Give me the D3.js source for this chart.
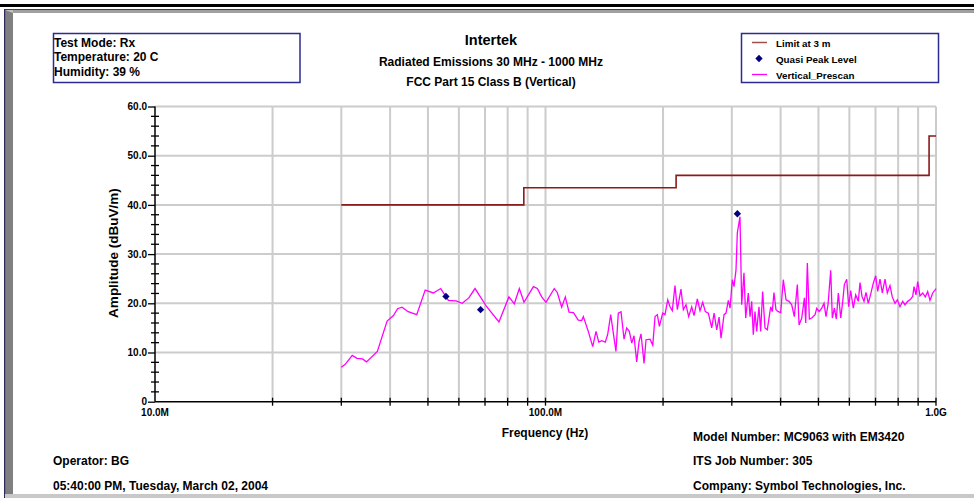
<!DOCTYPE html>
<html lang="en">
<head>
<meta charset="utf-8">
<title>Radiated Emissions</title>
<script src="https://d3js.org/d3.v7.min.js"></script>
<style>
  body { margin: 0; background: #fff; }
  svg { display: block; font-family: "Liberation Sans", Arial, sans-serif; font-weight: bold; }
</style>
</head>
<body>
<svg width="974" height="498"></svg>
<script>
// prescan trace, frequency in MHz / amplitude in dBuV/m
const prescanFreq = [30.0, 30.7, 32.0, 32.9, 34.0, 34.8, 37.1, 39.3, 40.8, 41.8, 42.9, 44.5, 46.8, 49.2, 51.6, 53.9,
  56.4, 59.0, 61.2, 63.6, 66.0, 70.7, 76.0, 80.6, 83.2, 85.7, 88.1, 93.1, 95.3, 97.8, 100.3, 105.3, 107.2, 110.0,
  112.4, 114.9, 117.9, 121.3, 123.8, 125.0, 128.7, 132.1, 134.7, 136.9, 139.3, 142.3, 144.3, 146.9, 149.2, 151.5,
  153.6, 156.1, 158.9, 161.4, 163.9, 166.3, 168.5, 171.2, 173.6, 175.6, 178.8, 180.9, 185.2, 188.2, 190.8, 193.4,
  195.7, 199.6, 202.3, 205.6, 208.4, 211.2, 214.6, 217.6, 222.3, 225.4, 229.0, 232.6, 236.8, 240.1, 244.8, 248.7,
  252.7, 256.6, 261.2, 266.5, 270.2, 274.5, 278.3, 281.5, 286.6, 289.9, 293.9, 296.9, 300.9, 303.9, 307.5, 309.9,
  314.8, 318.0, 322.3, 325.6, 330.6, 334.0, 337.3, 340.5, 343.9, 347.4, 352.1, 355.6, 359.8, 364.8, 369.8, 377.3,
  380.8, 384.6, 389.2, 394.6, 400.2, 406.4, 413.0, 420.4, 427.1, 433.7, 441.5, 446.0, 453.1, 460.2, 463.9, 468.3,
  473.9, 480.6, 490.1, 495.0, 501.7, 509.8, 516.7, 522.8, 529.0, 537.5, 542.6, 549.1, 555.6, 562.2, 570.2, 577.0,
  582.5, 590.7, 597.6, 604.7, 614.1, 622.8, 632.4, 638.9, 646.4, 654.1, 661.8, 670.8, 681.6, 690.9, 700.8, 709.1,
  718.8, 728.6, 740.3, 750.4, 762.4, 772.8, 785.2, 795.8, 808.7, 821.7, 832.9, 846.3, 857.8, 871.6, 878.4, 888.8,
  897.6, 909.9, 924.5, 938.9, 952.1, 965.2, 980.8, 995.9, 1000];
const prescanAmp = [7.0, 7.6, 9.4, 8.8, 8.7, 8.1, 10.2, 16.4, 17.5, 18.9, 19.2, 18.3, 17.7, 22.7, 22.1, 23.0,
  20.6, 20.5, 20.0, 21.1, 23.0, 19.3, 16.2, 21.3, 19.9, 23.0, 20.2, 23.4, 23.0, 21.3, 20.2, 23.0, 22.2, 19.2,
  21.3, 18.2, 18.1, 16.6, 16.5, 17.3, 14.3, 11.2, 14.3, 12.1, 12.4, 12.1, 13.7, 17.7, 13.9, 10.2,
  18.0, 18.3, 12.7, 15.0, 14.3, 11.9, 13.4, 8.1, 12.2, 13.8, 7.8, 12.6, 12.7, 11.5, 17.3, 17.7,
  15.3, 18.0, 17.7, 20.7, 19.3, 18.5, 23.6, 18.7, 22.9, 18.7, 19.7, 17.3, 19.3, 17.5, 20.9, 18.5,
  20.2, 18.3, 18.0, 15.0, 18.0, 14.6, 17.2, 12.9, 17.7, 18.0, 20.6, 19.0, 24.8, 23.4, 26.8, 34.3,
  37.6, 19.7, 26.2, 17.0, 22.1, 17.3, 20.4, 13.6, 18.3, 14.3, 19.3, 14.3, 22.4, 15.0, 14.6, 19.3,
  18.3, 22.2, 18.7, 18.3, 18.1, 24.8, 20.7, 20.4, 19.7, 17.3, 23.8, 15.6, 17.0, 21.1, 16.0, 28.2,
  16.8, 17.0, 17.7, 19.0, 18.3, 19.0, 20.0, 17.3, 19.7, 26.7, 17.0, 19.0, 16.8, 22.1, 17.0, 20.4,
  23.8, 24.9, 19.3, 22.6, 19.0, 21.7, 20.4, 24.2, 21.4, 20.4, 22.2, 20.0, 22.1, 24.1, 25.6, 22.4,
  24.9, 22.1, 24.9, 22.1, 23.6, 21.3, 20.0, 20.7, 19.3, 20.4, 19.7, 20.4, 20.7, 21.4, 23.4, 21.7,
  24.4, 21.5, 22.1, 21.3, 22.4, 20.6, 22.1, 22.8, 23.0];

// quasi peak readings
const qpFreq = [55.6, 68.2, 310.0];
const qpAmp = [21.4, 18.7, 38.2];

// FCC class B limit at 3 m (step)
const limitFreq = [30, 88, 216, 960, 1000];
const limitAmp = [40.0, 43.5, 46.0, 54.0, 54.0];

const yMajor = [0, 10, 20, 30, 40, 50, 60];
const yLabels = ["0", "10.0", "20.0", "30.0", "40.0", "50.0", "60.0"];
const xLabelVals = [1e7, 1e8, 1e9];
const xLabels = ["10.0M", "100.0M", "1.0G"];

const infoLines = ["Test Mode: Rx", "Temperature: 20 C", "Humidity: 39 %"];
const titleLines = ["Intertek", "Radiated Emissions 30 MHz - 1000 MHz", "FCC Part 15 Class B (Vertical)"];
const footLeft = ["Operator: BG", "05:40:00 PM, Tuesday, March 02, 2004"];
const footRight = ["Model Number: MC9063 with EM3420", "ITS Job Number: 305", "Company: Symbol Technologies, Inc."];

const svg = d3.select("svg");

// window frame
svg.append("rect").attr("x", 0).attr("y", 4).attr("width", 974).attr("height", 3).attr("fill", "#000");
svg.append("rect").attr("x", 5).attr("y", 9).attr("width", 969).attr("height", 1).attr("fill", "#3a3a78");
svg.append("rect").attr("x", 5).attr("y", 10).attr("width", 969).attr("height", 3).attr("fill", "#a0a0a0");
svg.append("path").attr("d", "M5,10 L13,10 L13,494 L5,494 Z").attr("fill", "#808080");
svg.append("path").attr("d", "M5,10 L13,13 L13,10 Z").attr("fill", "#c0c0c0");
svg.append("rect").attr("x", 4).attr("y", 9).attr("width", 1.2).attr("height", 489).attr("fill", "#2a2a60");
svg.append("rect").attr("x", 5).attr("y", 494).attr("width", 969).attr("height", 4).attr("fill", "#c8c8c8");

const x = d3.scaleLog().domain([1e7, 1e9]).range([155, 936]);
const y = d3.scaleLinear().domain([0, 60]).range([401.7, 106.5]);

// grid
const xGrid = [];
[1e7, 1e8].forEach(dec => { for (let i = 2; i <= 10; i++) xGrid.push(dec * i); });
const grid = svg.append("g").attr("stroke", "#cccccc").attr("stroke-width", 2);
grid.selectAll("line.v").data(xGrid).join("line").attr("class", "v")
  .attr("x1", d => x(d)).attr("x2", d => x(d)).attr("y1", y(60)).attr("y2", y(0));
grid.selectAll("line.h").data(yMajor.slice(1)).join("line").attr("class", "h")
  .attr("x1", x(1e7)).attr("x2", x(1e9)).attr("y1", d => y(d)).attr("y2", d => y(d));

// y axis
const yMinor = d3.range(0, 61, 2).filter(v => v % 10 !== 0);
const yAxis = svg.append("g").attr("transform", `translate(${x(1e7)},0)`)
  .call(d3.axisLeft(y).tickValues(yMajor).tickSize(7).tickFormat((d, i) => yLabels[i]));
yAxis.select(".domain").remove();
yAxis.selectAll("line").attr("stroke", "#000").attr("stroke-width", 1.3);
yAxis.selectAll("text").attr("font-size", 10).attr("font-weight", "bold")
  .attr("font-family", "'Liberation Sans', Arial, sans-serif").attr("x", -8);
svg.append("g").selectAll("line").data(yMinor).join("line")
  .attr("x1", x(1e7) - 4).attr("x2", x(1e7) + 4).attr("y1", d => y(d)).attr("y2", d => y(d))
  .attr("stroke", "#000").attr("stroke-width", 1.3);
svg.append("line").attr("x1", x(1e7)).attr("x2", x(1e7)).attr("y1", y(60)).attr("y2", y(0))
  .attr("stroke", "#000").attr("stroke-width", 1.5);

// x axis
svg.append("g").selectAll("line").data(xGrid).join("line")
  .attr("x1", d => x(d)).attr("x2", d => x(d)).attr("y1", y(0) - 4).attr("y2", y(0) + 4)
  .attr("stroke", "#000").attr("stroke-width", 1.3);
svg.append("line").attr("x1", x(1e7)).attr("x2", x(1e9)).attr("y1", y(0)).attr("y2", y(0))
  .attr("stroke", "#000").attr("stroke-width", 1.5);
svg.append("g").selectAll("text").data(xLabelVals).join("text")
  .attr("x", d => x(d)).attr("y", 415.5).attr("text-anchor", "middle")
  .attr("font-size", 10)
  .text((d, i) => xLabels[i]);

// axis titles
svg.append("text").attr("x", 545).attr("y", 437).attr("text-anchor", "middle").attr("font-size", 12)
  .text("Frequency (Hz)");
svg.append("text").attr("transform", "translate(118,253) rotate(-90)").attr("text-anchor", "middle")
  .attr("font-size", 13.5).text("Amplitude (dBuV/m)");

// limit line
const limitData = limitFreq.map((f, i) => ({ f: f * 1e6, a: limitAmp[i] }));
svg.append("path").datum(limitData)
  .attr("d", d3.line().x(d => x(d.f)).y(d => y(d.a)).curve(d3.curveStepAfter))
  .attr("fill", "none").attr("stroke", "#8b1a1a").attr("stroke-width", 1.6);

// prescan trace
const prescanData = prescanFreq.map((f, i) => ({ f: f * 1e6, a: prescanAmp[i] }));
svg.append("path").datum(prescanData)
  .attr("d", d3.line().x(d => x(d.f)).y(d => y(d.a)))
  .attr("fill", "none").attr("stroke", "#ff00ff").attr("stroke-width", 1.3);

// quasi peak markers
const diamond = d3.symbol().type(d3.symbolDiamond2).size(34);
svg.append("g").selectAll("path").data(qpFreq).join("path")
  .attr("transform", (d, i) => `translate(${x(d * 1e6)},${y(qpAmp[i])})`)
  .attr("d", diamond).attr("fill", "#000080");

// info box
svg.append("rect").attr("x", 53.5).attr("y", 33.5).attr("width", 246.5).attr("height", 49)
  .attr("fill", "none").attr("stroke", "#2b2b90").attr("stroke-width", 1.5);
svg.append("g").selectAll("text").data(infoLines).join("text")
  .attr("x", 54).attr("y", (d, i) => 46.5 + i * 14.5).attr("font-size", 12).text(d => d);

// titles
svg.append("g").selectAll("text").data(titleLines).join("text")
  .attr("x", 491).attr("y", (d, i) => [45, 65.5, 85.5][i]).attr("text-anchor", "middle")
  .attr("font-size", (d, i) => i === 0 ? 14.5 : 12).text(d => d);

// legend
const lg = svg.append("g");
lg.append("rect").attr("x", 741.5).attr("y", 33.5).attr("width", 197).attr("height", 49)
  .attr("fill", "none").attr("stroke", "#2b2b90").attr("stroke-width", 1.5);
lg.append("line").attr("x1", 752).attr("x2", 767).attr("y1", 42.5).attr("y2", 42.5)
  .attr("stroke", "#a0504a").attr("stroke-width", 1.5);
lg.append("path").attr("transform", "translate(759,58.5)").attr("d", diamond).attr("fill", "#000080");
lg.append("line").attr("x1", 752).attr("x2", 767).attr("y1", 74.5).attr("y2", 74.5)
  .attr("stroke", "#ff00ff").attr("stroke-width", 1.3);
lg.selectAll("text").data(["Limit at 3 m", "Quasi Peak Level", "Vertical_Prescan"]).join("text")
  .attr("x", 776).attr("y", (d, i) => 46.5 + i * 16).attr("font-size", 9.8).text(d => d);

// footer
svg.append("g").selectAll("text").data(footLeft).join("text")
  .attr("x", 53).attr("y", (d, i) => 464.5 + i * 25).attr("font-size", 12).text(d => d);
svg.append("g").selectAll("text").data(footRight).join("text")
  .attr("x", 693).attr("y", (d, i) => 440.5 + i * 24.5).attr("font-size", 12).text(d => d);
</script>
</body>
</html>
